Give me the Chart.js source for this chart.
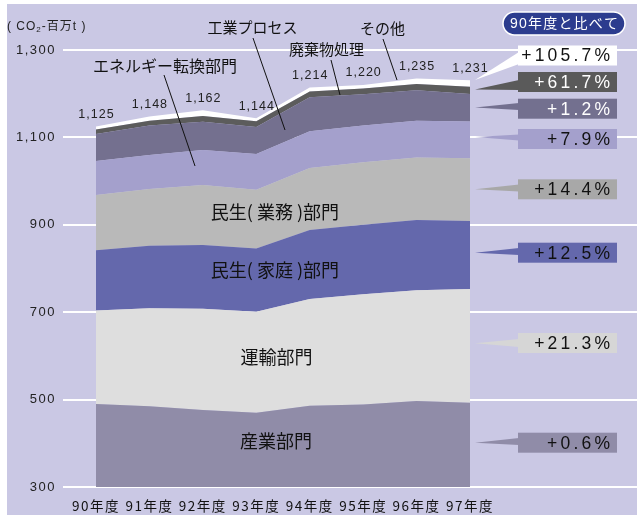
<!DOCTYPE html>
<html>
<head>
<meta charset="utf-8">
<script src="https://cdn.jsdelivr.net/npm/chart.js@4/dist/chart.umd.min.js"></script>
<style>
  html, body { margin: 0; padding: 0; background: #fff; overflow: hidden; }
  #wrap { width: 637px; height: 515px; position: relative; }
</style>
</head>
<body>
<div id="wrap"><canvas id="c" width="637" height="515"></canvas></div>
<script>
// 年度別 CO2 排出量（百万t）部門別積み上げ
const years   = ['90年度', '91年度', '92年度', '93年度', '94年度', '95年度', '96年度', '97年度'];
const totals  = [1125, 1148, 1162, 1144, 1214, 1220, 1235, 1231];
const sangyo  = [490, 485, 476, 470, 486, 489, 497, 493];          // 産業部門
const unyu    = [214, 224, 232, 231, 244, 252, 253, 260];          // 運輸部門
const katei   = [138, 143, 145.5, 145, 158, 159, 161, 155.5];      // 民生(家庭)部門
const gyomu   = [126, 130, 137.5, 134, 142, 143, 143, 144];        // 民生(業務)部門
const energy  = [78, 78, 80, 82, 84, 84, 84, 84];                  // エネルギー転換部門
const kogyo   = [62, 67, 65, 62, 78, 72, 70, 63];                  // 工業プロセス
const haiki   = [10, 11, 13, 13, 13, 13, 14, 16.5];                // 廃棄物処理
const sonota  = [7, 10, 13, 7, 9, 8, 13, 15];                      // その他
const yTicks  = [300, 500, 700, 900, 1100, 1300];

// 90年度比の増減（上から その他 → 産業部門）
const pctLabels = ['+105.7%', '+61.7%', '+1.2%', '+7.9%', '+14.4%', '+12.5%', '+21.3%', '+0.6%'];

// ---- styling ----
const BG = '#cac8e4';
const FILLS = ['#908ca8', '#dedede', '#6468ac', '#b9b9b9', '#a4a0cc', '#74708f', '#5c5c5c', '#ffffff'];
const series = [sangyo, unyu, katei, gyomu, energy, kogyo, haiki, sonota];
const seriesNames = ['産業部門', '運輸部門', '民生(家庭)部門', '民生(業務)部門', 'エネルギー転換部門', '工業プロセス', '廃棄物処理', 'その他'];

const boxFill = ['#ffffff', '#5a5a5a', '#73708f', '#a4a0cc', '#a8a8a8', '#6468ac', '#d6d6d6', '#908ca8'];
const boxInk  = ['#111', '#fff', '#fff', '#111', '#111', '#111', '#111', '#111'];
const boxGeom = [
  { cy: 55.5,  tipY: 80,    b0: 52,    b1: 64 },
  { cy: 82,    tipY: 89.5,  b0: 80,    b1: 90 },
  { cy: 108.7, tipY: 107.5, b0: 103,   b1: 110 },
  { cy: 139,   tipY: 137,   b0: 134.5, b1: 140.5 },
  { cy: 189.3, tipY: 189.3, b0: 184.5, b1: 191.5 },
  { cy: 252.7, tipY: 252.7, b0: 248,   b1: 255 },
  { cy: 343,   tipY: 343.3, b0: 339,   b1: 347 },
  { cy: 442.7, tipY: 442.7, b0: 438,   b1: 445 }
];
const BOX_X = 518, BOX_W = 99, BOX_H = 20, TIP_X = 475;

const JP = '"Noto Sans CJK JP", "Noto Sans", sans-serif';
const LAT = '"Liberation Sans", Arial, sans-serif';

function spacedText(ctx, str, x, y, spacing, align) {
  const widths = Array.from(str).map(ch => ctx.measureText(ch).width);
  const total = widths.reduce((a, b) => a + b, 0) + spacing * (widths.length - 1);
  let sx = align === 'right' ? x - total : align === 'center' ? x - total / 2 : x;
  ctx.textAlign = 'left';
  Array.from(str).forEach((ch, i) => { ctx.fillText(ch, sx, y); sx += widths[i] + spacing; });
  return total;
}

const backdrop = {
  id: 'backdrop',
  beforeDraw(chart) {
    const { ctx } = chart;
    ctx.save();
    ctx.fillStyle = '#ffffff';
    ctx.fillRect(0, 0, chart.width, chart.height);
    ctx.fillStyle = BG;
    ctx.fillRect(7, 4, chart.width - 7, chart.height - 4);
    ctx.restore();
    ctx.letterSpacing = '1.5px';
  },
  beforeDatasetsDraw(chart) {
    chart.ctx.letterSpacing = '0px';
  }
};

const annotations = {
  id: 'annotations',
  afterDatasetsDraw(chart) {
    const { ctx } = chart;
    const xs = chart.scales.x, ys = chart.scales.y;
    ctx.save();
    ctx.letterSpacing = '0px';
    ctx.textBaseline = 'middle';

    // 合計値
    ctx.fillStyle = '#222';
    ctx.font = '12.5px ' + LAT;
    totals.forEach((t, i) => {
      spacedText(ctx, t.toLocaleString('en-US'), xs.getPixelForValue(i), ys.getPixelForValue(t) - 12, 1, 'center');
    });

    // 部門名（面の内側）
    ctx.fillStyle = '#111';
    ctx.font = '18px ' + JP;
    ctx.textAlign = 'center';
    [['産業部門', 3.37, 405], ['運輸部門', 3.38, 597], ['民生( 家庭 )部門', 3.35, 797], ['民生( 業務 )部門', 3.35, 930]]
      .forEach(([txt, xv, yv]) => ctx.fillText(txt, xs.getPixelForValue(xv), ys.getPixelForValue(yv)));

    // 引き出し線つきの部門名
    ctx.strokeStyle = '#111';
    ctx.lineWidth = 1;
    const callouts = [
      { txt: 'エネルギー転換部門', size: 16, x: 165,   y: 66, l: [164, 75, 195, 166] },
      { txt: '工業プロセス',       size: 15, x: 252.5, y: 27, l: [253, 38, 285, 130] },
      { txt: '廃棄物処理',         size: 15, x: 326.5, y: 49, l: [331, 60, 340, 95] },
      { txt: 'その他',             size: 15, x: 382.5, y: 28, l: [383, 39, 397, 80] }
    ];
    callouts.forEach(c => {
      ctx.font = c.size + 'px ' + JP;
      ctx.textAlign = 'center';
      ctx.fillText(c.txt, c.x, c.y);
      ctx.beginPath();
      ctx.moveTo(c.l[0], c.l[1]);
      ctx.lineTo(c.l[2], c.l[3]);
      ctx.stroke();
    });

    // 単位
    ctx.fillStyle = '#222';
    ctx.font = '12px ' + LAT;
    let ux = 7 + spacedText(ctx, '( CO', 7, 27, 1, 'left') + 1;
    ctx.font = '8px ' + LAT;
    ctx.fillText('2', ux, 30);
    ux += ctx.measureText('2').width + 1;
    ctx.font = '12px "Liberation Sans", "Noto Sans CJK JP", sans-serif';
    spacedText(ctx, '-百万t )', ux, 27, 1, 'left');

    // 90年度比ラベル
    pctLabels.forEach((lab, i) => {
      const g = boxGeom[i];
      ctx.fillStyle = boxFill[i];
      ctx.beginPath();
      ctx.moveTo(TIP_X, g.tipY);
      ctx.lineTo(BOX_X + 1, g.b0);
      ctx.lineTo(BOX_X + 1, g.b1);
      ctx.closePath();
      ctx.fill();
      ctx.fillRect(BOX_X, g.cy - BOX_H / 2, BOX_W, BOX_H);
      ctx.fillStyle = boxInk[i];
      ctx.font = '17.5px ' + LAT;
      spacedText(ctx, lab, 610, g.cy + 1, 3.2, 'right');
    });

    // 見出しバッジ
    ctx.beginPath();
    ctx.roundRect(503, 12, 122, 23, 11.5);
    ctx.fillStyle = '#2c3c8e';
    ctx.fill();
    ctx.strokeStyle = '#ffffff';
    ctx.lineWidth = 1.5;
    ctx.stroke();
    ctx.fillStyle = '#ffffff';
    ctx.font = '14px "Liberation Sans", "Noto Sans CJK JP", sans-serif';
    spacedText(ctx, '90年度と比べて', 564, 24, 1.2, 'center');

    ctx.restore();
  }
};

const datasets = series.map((vals, k) => ({
  label: seriesNames[k],
  data: vals.map((v, i) => ({ x: i, y: v })),
  backgroundColor: FILLS[k],
  borderColor: FILLS[k],
  borderWidth: 0,
  pointRadius: 0,
  tension: 0,
  fill: k === 0 ? 'origin' : '-1'
}));

new Chart(document.getElementById('c'), {
  type: 'line',
  data: { datasets },
  plugins: [backdrop, annotations],
  options: {
    responsive: false,
    animation: false,
    devicePixelRatio: 1,
    layout: { padding: { top: 50, left: 0, right: 0, bottom: 0 } },
    plugins: { legend: { display: false }, tooltip: { enabled: false } },
    scales: {
      x: {
        type: 'linear',
        min: -0.6176,
        max: 10.1256,
        grid: { display: false },
        border: { display: false },
        afterBuildTicks: (s) => { s.ticks = years.map((_, i) => ({ value: i })); },
        afterFit: (s) => { s.height = 28; },
        ticks: {
          autoSkip: false,
          maxRotation: 0,
          padding: 3,
          color: '#111',
          font: { family: JP, size: 13.5 },
          callback: (v) => years[v]
        }
      },
      y: {
        stacked: true,
        min: 300,
        max: 1300,
        grid: { color: '#ffffff', lineWidth: 2, drawTicks: false },
        border: { display: false },
        afterBuildTicks: (s) => { s.ticks = yTicks.map(v => ({ value: v })); },
        afterFit: (s) => { s.width = 63; },
        ticks: {
          padding: 7,
          color: '#222',
          font: { family: LAT, size: 13 },
          callback: (v) => v.toLocaleString('en-US')
        }
      }
    }
  }
});
</script>
</body>
</html>
